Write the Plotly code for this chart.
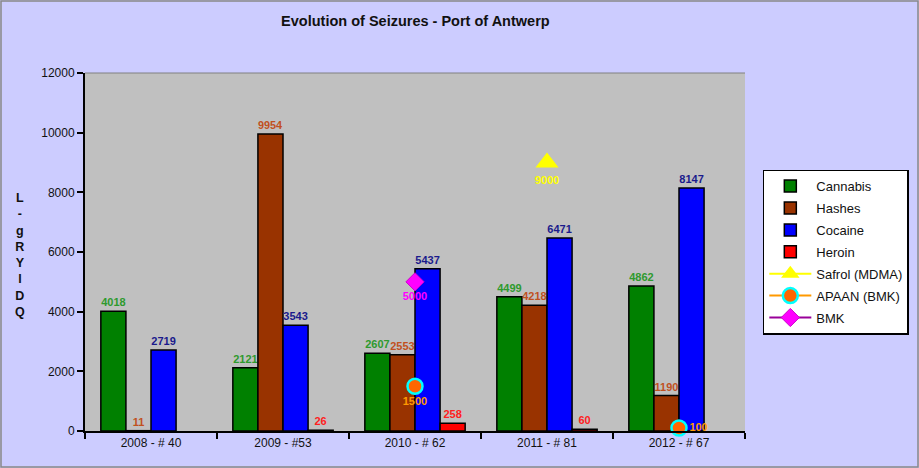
import plotly.graph_objects as go

categories = ["2008 - # 40", "2009 - #53", "2010 - # 62", "2011 - # 81", "2012 - # 67"]
cannabis = [4018, 2121, 2607, 4499, 4862]
hashes = [11, 9954, 2553, 4218, 1190]
cocaine = [2719, 3543, 5437, 6471, 8147]
heroin = [None, 26, 258, 60, None]
safrol = [None, None, None, 9000, None]
apaan = [None, None, 1500, None, 100]
bmk = [None, None, 5000, None, None]
y_ticks = [0, 2000, 4000, 6000, 8000, 10000, 12000]

fig = go.Figure()

bar_series = [
    ("Cannabis", cannabis, "#008000", "#2E9A2E"),
    ("Hashes", hashes, "#993300", "#C0501E"),
    ("Cocaine", cocaine, "#0000FF", "#1A1A8C"),
    ("Heroin", heroin, "#FF0000", "#FF2020"),
]
for name, vals, col, tcol in bar_series:
    fig.add_trace(go.Bar(
        x=categories, y=vals, name=name, legendgroup=name,
        marker=dict(color=col, line=dict(color="black", width=1.5)),
        text=[("" if v is None else "<b>%d</b>" % v) for v in vals],
        textposition="outside",
        textfont=dict(color=tcol, size=11, family="Liberation Sans"),
        cliponaxis=False,
    ))

fig.add_trace(go.Scatter(
    x=categories, y=safrol, name="Safrol (MDMA)", legendgroup="safrol", mode="lines+markers+text",
    line=dict(color="#FFFF00", width=2),
    marker=dict(symbol="triangle-up", size=20, color="#FFFF00"),
    text=[("" if v is None else "<b>%d</b>" % v) for v in safrol],
    textposition="bottom center",
    textfont=dict(color="#FFFF00", size=11, family="Liberation Sans"),
    cliponaxis=False,
))
fig.add_trace(go.Scatter(
    x=categories, y=apaan, name="APAAN (BMK)", legendgroup="apaan", mode="lines+markers+text",
    line=dict(color="#FF9900", width=2),
    marker=dict(symbol="circle", size=15, color="#FF6600", line=dict(color="#00FFFF", width=2.5)),
    text=[("" if v is None else "<b>%d</b>" % v) for v in apaan],
    textposition=["bottom center", "bottom center", "bottom center", "bottom center", "middle right"],
    textfont=dict(color="#FF9900", size=11, family="Liberation Sans"),
    cliponaxis=False,
))
fig.add_trace(go.Scatter(
    x=categories, y=bmk, name="BMK", legendgroup="bmk", mode="lines+markers+text",
    line=dict(color="#990099", width=2),
    marker=dict(symbol="diamond", size=14, color="#FF00FF", line=dict(color="#CC00CC", width=1)),
    text=[("" if v is None else "<b>%d</b>" % v) for v in bmk],
    textposition="bottom center",
    textfont=dict(color="#FF00FF", size=11, family="Liberation Sans"),
    cliponaxis=False,
))

fig.update_layout(
    width=919, height=468,
    margin=dict(l=85, r=174, t=73, b=37, autoexpand=False),
    paper_bgcolor="#CCCCFF",
    plot_bgcolor="#C0C0C0",
    barmode="group",
    bargap=0.24,
    bargroupgap=0,
    font=dict(family="Liberation Sans", size=12, color="#111111"),
    title=dict(text="<b>Evolution of Seizures - Port of Antwerp</b>", x=0.452, xanchor="center",
               y=0.955, yanchor="middle", font=dict(size=14.5, color="#111111")),
    legend=dict(x=1.027, y=0.73, xanchor="left", yanchor="top",
                bgcolor="white", bordercolor="black", borderwidth=1.5,
                font=dict(size=13, color="#111111"), tracegroupgap=2, itemwidth=42),
    showlegend=True,
)
fig.update_xaxes(showline=True, linecolor="black", linewidth=2, ticks="outside",
                 tickson="boundaries", ticklen=6, tickcolor="black", tickwidth=2,
                 tickfont=dict(size=12), showgrid=False)
fig.update_yaxes(range=[0, 12000], tickvals=y_ticks, tickformat="d", showline=True, linecolor="black",
                 linewidth=2, ticks="outside", ticklen=6, tickcolor="black", tickwidth=2,
                 tickfont=dict(size=12), showgrid=False, zeroline=False)

fig.add_shape(type="line", xref="paper", yref="paper", x0=0, x1=1, y0=1, y1=1,
              line=dict(color="#808080", width=1))
fig.add_shape(type="rect", xref="paper", yref="paper",
              x0=-84/660, x1=(919-85-1)/660, y0=-(37-1)/358, y1=(358+73-1)/358,
              line=dict(color="#888888", width=1.5))

fig.add_annotation(text="<b>L<br>-<br>g<br>R<br>Y<br>l<br>D<br>Q</b>", xref="paper", yref="paper",
                   x=-65/660, y=(431-255)/358, xanchor="center", yanchor="middle",
                   showarrow=False, font=dict(size=12.5, color="#111111"))

fig.write_html("out.html", post_script="document.body.style.margin='0';",
               config={"displayModeBar": False})
